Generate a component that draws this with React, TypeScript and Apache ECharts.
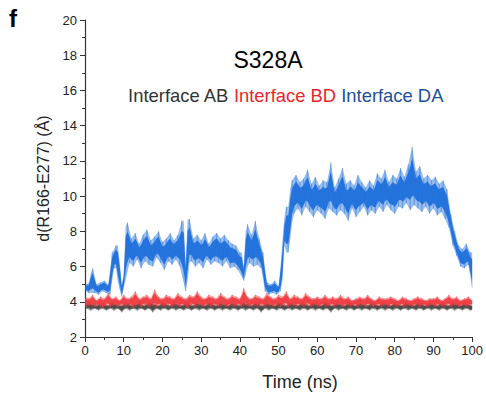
import React, { useEffect, useRef } from "react";
import * as echarts from "echarts";

// Time step of the sampled traces (ns)
const timeStep = 0.5;

const xTicks = [0, 10, 20, 30, 40, 50, 60, 70, 80, 90, 100];
const yTicks = [2, 4, 6, 8, 10, 12, 14, 16, 18, 20];

const seriesNames = ["Interface AB", "Interface BD", "Interface DA"];

// Interface AB (gray)
const interfaceAB = [
  3.9,3.6,4.0,3.5,3.9,3.6,3.8,3.5,4.0,3.6,3.9,3.5,3.8,3.6,4.0,3.5,3.9,3.6,3.8,3.4,
  3.9,3.6,4.0,3.5,3.8,3.6,3.9,3.5,4.0,3.6,3.8,3.5,3.9,3.6,4.0,3.4,3.9,3.6,3.8,3.5,
  4.0,3.6,3.9,3.5,3.8,3.6,4.0,3.5,3.9,3.6,3.8,3.5,4.0,3.6,3.9,3.5,3.8,3.6,4.0,3.5,
  3.9,3.6,3.8,3.5,4.0,3.6,3.9,3.5,3.8,3.6,4.0,3.5,3.9,3.6,3.8,3.5,4.0,3.6,3.9,3.5,
  3.8,3.6,4.0,3.5,3.9,3.6,3.8,3.5,4.0,3.6,3.9,3.4,3.8,3.6,4.0,3.5,3.9,3.6,3.8,3.5,
  4.0,3.6,3.9,3.5,3.8,3.6,4.0,3.5,3.9,3.6,3.8,3.5,4.0,3.6,3.9,3.5,3.8,3.6,4.0,3.5,
  3.9,3.6,3.8,3.5,4.0,3.6,3.9,3.4,3.8,3.6,4.0,3.5,3.9,3.6,3.8,3.5,4.0,3.6,3.9,3.5,
  3.8,3.6,4.0,3.5,3.9,3.6,3.8,3.5,4.0,3.6,3.9,3.5,3.8,3.6,4.0,3.5,3.9,3.6,3.8,3.5,
  4.0,3.6,3.9,3.5,3.8,3.6,4.0,3.5,3.9,3.6,3.8,3.5,4.0,3.6,3.9,3.5,3.8,3.6,4.0,3.5,
  3.9,3.6,3.8,3.5,4.0,3.6,3.9,3.5,3.8,3.6,4.0,3.5,3.9,3.6,3.8,3.5,4.0,3.6,3.9,3.5,
  3.8,
];

// Interface BD (red)
const interfaceBD = [
  4.3,3.7,4.2,3.8,4.4,3.7,4.1,3.8,4.3,3.6,4.2,3.8,4.5,3.7,4.2,3.8,4.3,3.7,4.1,3.8,
  4.4,3.7,4.2,3.8,4.3,3.6,4.6,3.8,4.2,3.7,4.3,3.8,4.4,3.7,4.2,3.8,4.7,3.7,4.3,3.8,
  4.2,3.7,4.4,3.8,4.3,3.7,4.2,3.8,4.5,3.7,4.3,3.8,4.2,3.6,4.4,3.8,4.3,3.7,4.6,3.8,
  4.3,3.7,4.2,3.8,4.4,3.7,4.3,3.8,4.2,3.7,4.5,3.8,4.3,3.7,4.2,3.8,4.4,3.7,4.3,3.8,
  4.2,3.7,4.8,3.8,4.3,3.7,4.2,3.8,4.4,3.7,4.3,3.8,4.2,3.7,4.5,3.8,4.3,3.7,4.2,3.8,
  4.4,3.7,4.3,3.8,4.6,3.7,4.2,3.8,4.4,3.7,4.3,3.8,4.2,3.7,4.5,3.8,4.3,3.7,4.2,3.8,
  4.3,3.7,4.2,3.8,4.4,3.7,4.2,3.8,4.3,3.7,4.2,3.8,4.4,3.7,4.2,3.8,4.3,3.7,4.1,3.8,
  4.2,3.7,4.3,3.8,4.2,3.7,4.4,3.8,4.2,3.7,4.1,3.8,4.3,3.7,4.2,3.8,4.2,3.7,4.3,3.8,
  4.2,3.7,4.1,3.8,4.3,3.7,4.2,3.8,4.1,3.7,4.2,3.8,4.3,3.7,4.2,3.8,4.1,3.7,4.2,3.8,
  4.2,3.7,4.3,3.8,4.1,3.7,4.2,3.8,4.4,3.7,4.2,3.8,4.3,3.7,4.1,3.8,4.2,3.7,4.3,3.8,
  4.1,
];

// Interface DA (blue)
const interfaceDA = [
  // 0 - 6.5
  4.6,5.0,4.5,5.1,5.9,4.5,5.0,4.4,5.1,4.6,5.2,4.5,5.0,4.4,
  // 7 - 8.5
  6.8,5.9,7.2,6.2,
  // 9 - 10
  4.8,4.3,5.0,
  // 10.5
  5.6,
  // 11 - 25
  8.5,6.2,7.6,6.0,7.9,6.4,7.3,5.9,7.8,6.3,8.1,6.1,7.5,6.0,7.7,6.5,8.0,6.2,7.4,5.8,
  7.6,6.3,7.9,6.1,7.5,6.4,7.8,6.0,8.6,
  // 25.5 - 26.5
  5.4,4.6,6.2,
  // 27 - 40
  8.7,6.3,7.6,6.0,7.8,6.2,7.5,5.9,7.9,6.4,7.3,6.1,7.7,6.3,7.9,6.2,7.6,6.0,7.8,6.3,
  7.5,5.9,7.3,6.0,7.2,5.8,6.8,
  // 40.5 - 41.5
  5.6,5.2,6.0,
  // 42 - 46
  8.4,6.2,7.8,6.0,8.6,6.1,7.6,5.9,6.8,
  // 46.5 - 50.5
  4.6,5.1,4.4,5.0,4.5,5.2,4.4,4.9,4.6,
  // 51 - 53
  7.2,8.6,9.4,6.8,8.5,
  // 53.5 - 93.5
  10.9,9.0,11.2,9.3,10.8,8.9,11.0,9.4,11.5,9.1,10.7,8.8,11.1,9.2,10.6,9.0,10.9,8.7,10.8,9.3,
  11.9,9.1,10.5,8.9,11.0,9.2,11.6,9.0,10.7,8.6,10.9,9.3,10.6,8.8,11.2,9.1,10.8,9.4,10.5,8.9,
  10.9,9.2,10.6,9.0,11.3,9.4,11.0,9.1,11.5,9.5,10.8,9.2,11.2,9.0,11.0,9.4,11.6,9.3,11.1,9.6,
  11.8,9.2,12.8,9.5,11.4,9.3,11.7,9.1,11.0,9.4,11.2,9.0,10.9,9.3,11.1,8.9,10.7,9.1,10.9,8.7,
  10.4,
  // 94 - 96
  8.2,9.0,7.2,8.0,6.6,
  // 96.5 - 99.5
  7.2,6.0,7.0,5.9,7.3,6.1,6.8,
  // 100
  4.8,
];

const toPairs = (vals: number[]) => vals.map((v, i) => [i * timeStep, v]);

// upper / lower envelopes of a trace (through local extremes, bounded by the neighbouring samples)
const envelopes = (vals: number[]) => {
  const n = vals.length;
  const maxIdx: number[] = [];
  const minIdx: number[] = [];
  for (let i = 0; i < n; i++) {
    const prev = i > 0 ? vals[i - 1] : null;
    const next = i < n - 1 ? vals[i + 1] : null;
    if ((prev === null || vals[i] >= prev) && (next === null || vals[i] >= next)) maxIdx.push(i);
    if ((prev === null || vals[i] <= prev) && (next === null || vals[i] <= next)) minIdx.push(i);
  }
  const interp = (idx: number[], i: number) => {
    let k = 0;
    while (k < idx.length - 1 && idx[k + 1] < i) k++;
    const a = idx[k];
    const b = idx[Math.min(k + 1, idx.length - 1)];
    if (a >= i || a === b) return vals[a];
    if (b <= i) return vals[b];
    return vals[a] + ((vals[b] - vals[a]) * (i - a)) / (b - a);
  };
  const win = (i: number) => vals.slice(Math.max(0, i - 1), Math.min(n, i + 2));
  const upper = vals.map((v, i) => Math.max(v, Math.min(interp(maxIdx, i), Math.max(...win(i)))));
  const lower = vals.map((v, i) => Math.min(v, Math.max(interp(minIdx, i), Math.min(...win(i)))));
  return { upper, lower };
};

const makeTrace = (name: string, vals: number[], color: string, z: number) => {
  const env = envelopes(vals);
  const bandPolygon = (api: any, frac: number) => {
    const top: number[][] = [];
    const bottom: number[][] = [];
    vals.forEach((_v, i) => {
      const mid = (env.upper[i] + env.lower[i]) / 2;
      const half = ((env.upper[i] - env.lower[i]) / 2) * frac;
      top.push(api.coord([i * timeStep, mid + half]));
      bottom.push(api.coord([i * timeStep, mid - half]));
    });
    return top.concat(bottom.reverse());
  };
  return [
    {
      name: name + " band",
      type: "custom",
      data: [[0]],
      silent: true,
      z,
      renderItem: (_params: any, api: any) => ({
        type: "group",
        children: [
          {
            type: "polygon",
            shape: { points: bandPolygon(api, 1) },
            style: { fill: color, opacity: 0.45 },
          },
          {
            type: "polygon",
            shape: { points: bandPolygon(api, 0.62) },
            style: { fill: color, opacity: 0.9 },
          },
        ],
      }),
    },
    {
      name,
      type: "line",
      data: toPairs(vals),
      showSymbol: false,
      lineStyle: { color, width: 0.5, opacity: 0.55 },
      z: z + 0.5,
    },
  ];
};

export default function App() {
  const ref = useRef<HTMLDivElement>(null);
  useEffect(() => {
    if (!ref.current) return;
    const chart = echarts.init(ref.current, null, { renderer: "svg" });
    const font = "Liberation Sans, Arial, Helvetica, sans-serif";
    const axisColor = "#333";
    chart.setOption({
      animation: false,
      backgroundColor: "#fff",
      textStyle: { fontFamily: font },
      grid: { left: 85, right: 11, top: 20, bottom: 59, containLabel: false },
      graphic: [
        {
          type: "text",
          left: 9,
          top: 6,
          style: { text: "f", font: `bold 24px ${font}`, fill: "#000" },
        },
        {
          type: "text",
          x: 268,
          y: 60,
          style: {
            text: "S328A",
            font: `23px ${font}`,
            fill: "#000",
            align: "center",
            verticalAlign: "middle",
          },
        },
        {
          type: "text",
          x: 285.5,
          y: 95,
          style: {
            text: `{a|${seriesNames[0]}} {b|${seriesNames[1]}} {c|${seriesNames[2]}}`,
            align: "center",
            verticalAlign: "middle",
            font: `18.4px ${font}`,
            rich: {
              a: { fill: "#333333", font: `18.4px ${font}` },
              b: { fill: "#e8262b", font: `18.4px ${font}` },
              c: { fill: "#1c4f9c", font: `18.4px ${font}` },
            },
          },
        },
        {
          type: "text",
          x: 300,
          y: 382,
          style: {
            text: "Time (ns)",
            font: `18px ${font}`,
            fill: "#222",
            align: "center",
            verticalAlign: "middle",
          },
        },
      ],
      xAxis: {
        type: "value",
        min: xTicks[0],
        max: xTicks[xTicks.length - 1],
        interval: 10,
        axisLine: { show: true, lineStyle: { color: axisColor, width: 1.2 } },
        axisTick: { show: true, length: 5, lineStyle: { color: axisColor } },
        minorTick: { show: true, splitNumber: 2, length: 3, lineStyle: { color: axisColor } },
        axisLabel: { fontSize: 13, color: "#222", margin: 7, fontFamily: font },
        splitLine: { show: false },
      },
      yAxis: {
        type: "value",
        min: yTicks[0],
        max: yTicks[yTicks.length - 1],
        interval: 2,
        name: "d(R166-E277) (Å)",
        nameLocation: "middle",
        nameGap: 33,
        nameRotate: 90,
        nameTextStyle: { fontSize: 16, color: "#222", fontFamily: font },
        axisLine: { show: true, lineStyle: { color: axisColor, width: 1.2 } },
        axisTick: { show: true, length: 5, lineStyle: { color: axisColor } },
        minorTick: { show: true, splitNumber: 2, length: 3, lineStyle: { color: axisColor } },
        axisLabel: { fontSize: 13, color: "#222", margin: 8, fontFamily: font },
        splitLine: { show: false },
      },
      series: [
        ...makeTrace(seriesNames[0], interfaceAB, "#454545", 2),
        ...makeTrace(seriesNames[1], interfaceBD, "#ee3a3f", 3),
        ...makeTrace(seriesNames[2], interfaceDA, "#1b6ddb", 4),
      ],
    });
    return () => chart.dispose();
  }, []);
  return (
    <div
      ref={ref}
      style={{ position: "fixed", left: 0, top: 0, width: 486, height: 396 }}
    />
  );
}
